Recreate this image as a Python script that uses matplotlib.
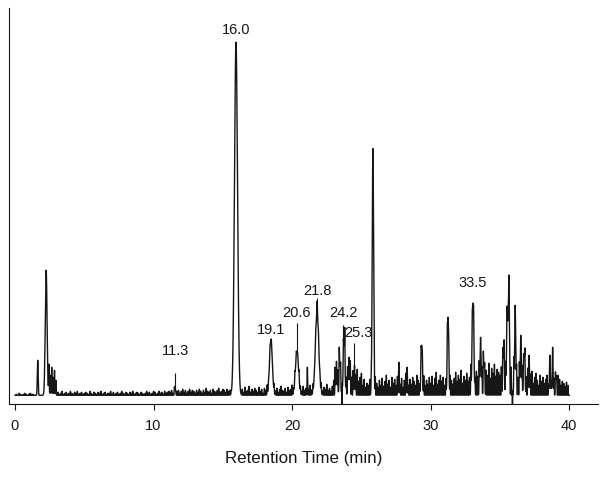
import numpy as np
import matplotlib.pyplot as plt

plt.rcParams['font.family'] = ['Liberation Sans', 'DejaVu Sans']

# main peaks: retention time (min), height, width (min)
peak_t = [1.64, 2.25, 2.45, 2.55, 2.65, 2.75, 2.85, 2.95,
          11.55, 15.95, 18.47, 20.35, 21.1, 21.8,
          23.2, 23.45, 23.75, 23.6, 24.1, 24.5, 25.83,
          27.7, 28.3, 29.35, 31.25, 33.05, 33.6, 33.85,
          35.25, 35.55, 35.65, 35.9, 36.1, 36.5, 36.75, 37.1,
          38.6, 38.8, 39.05]
peak_h = [35, 125, 30, 20, 28, 18, 25, 15,
          9, 353, 55, 43, 25, 82,
          22, 30, 50, -50, 26, 18, 245,
          20, 16, 50, 78, 92, 42, 30,
          38, 75, 92, -90, 64, 40, 40, 26,
          26, 26, 20]
peak_w = [0.03, 0.065, 0.02, 0.02, 0.02, 0.02, 0.02, 0.02,
          0.03, 0.11, 0.1, 0.11, 0.02, 0.12,
          0.05, 0.05, 0.06, 0.008, 0.06, 0.04, 0.05,
          0.03, 0.03, 0.05, 0.05, 0.06, 0.05, 0.04,
          0.05, 0.07, 0.025, 0.008, 0.05, 0.05, 0.05, 0.04,
          0.04, 0.04, 0.03]

# baseline noise spikes, one every 0.1 min, per region
noise_a = [1, 0, 2, 1, 0, 1, 2, 1, 0, 1, 2, 1, 1, 0]  # 0.1 - 1.4
noise_b = [3, 1, 2, 4, 1, 2, 3, 1, 2, 4, 2, 1, 3, 2, 4, 1, 2, 3, 1, 2,
           3, 2, 1, 4, 2, 1, 3, 2, 1, 3, 2, 4, 1, 2, 3, 1, 2, 2, 4, 1,
           3, 1, 2, 3, 1, 2, 4, 2, 1, 3, 2, 1, 3, 2, 4, 1, 2, 3, 2, 1,
           3, 2, 1, 2, 4, 2, 3, 1, 2, 4, 3, 1, 2, 4, 2, 3, 1, 4, 2, 3]  # 3.1 - 11.0
noise_c = [4, 3, 5, 2, 6, 3, 4, 5, 2, 4, 6, 3, 5, 2, 4, 6, 3, 5, 4, 2,
           5, 3, 6, 4, 2, 5, 3, 7, 4, 3, 5, 2, 6, 4, 3, 5, 7, 3, 4, 6,
           5, 3, 6, 4, 5, 3]  # 11.1 - 15.6
noise_d = [6, 3, 8, 4, 5, 9, 3, 6, 4, 7, 5, 3, 8, 4, 6, 2, 7, 5, 9, 4,
           6, 3, 5, 8, 4, 7, 3, 6, 9, 5, 4, 7, 3, 8, 5, 6, 10, 4, 7, 5,
           3, 8, 6, 4, 9, 5, 7, 3, 6, 10, 5, 8, 4, 7, 12, 6, 5, 9, 4, 8,
           6, 11, 5, 7, 4, 9]  # 16.4 - 22.9
noise_e = [15, 25, 12, 22, 30, 14, 26, 20, 32, 16, 22, 12, 28, 18, 24, 12, 20, 26, 14, 18,
           22, 10, 16, 8, 12,  # 23.0 - 25.4
           10, 16, 8, 14, 11, 18, 12, 8, 15, 10, 17, 9, 14, 20, 11, 15, 8, 18, 12, 16,
           10, 19, 13, 11, 17, 8, 15, 22, 12, 10, 16, 11, 18, 14, 10, 20, 15, 11, 17, 12,
           19, 10, 15, 11, 18,  # 25.5 - 29.9
           12, 19, 10, 17, 23, 11, 15, 20, 14, 18, 10, 16, 21, 12, 19, 15, 11, 17, 23, 14,
           20, 16, 25, 12, 19, 15, 22, 14, 18, 27, 17, 21, 14, 24, 19, 29, 16, 23, 30, 18,
           25, 20, 32, 17, 27, 22, 31, 19, 26, 23,  # 30.0 - 34.9
           20, 28, 24, 32, 26, 30, 22, 34, 28, 24, 30, 26, 22, 18, 28, 20, 24, 16, 22, 18,
           26, 14, 20, 24, 12, 18, 22, 15, 10, 20, 14, 18, 12, 16, 20, 10, 14, 12, 22, 16,
           18, 12, 20, 16, 10, 14, 12, 9, 13, 10]  # 35.0 - 39.9
noise_start = [0.1, 3.1, 11.1, 16.4, 23.0]

labels = ['11.3', '16.0', '19.1', '20.6', '21.8', '24.2', '25.3', '33.5']
label_x = [11.55, 15.95, 18.47, 20.35, 21.8, 23.67, 24.8, 33.05]
label_y = [44, 365, 65, 82, 104, 82, 62, 112]
# leader lines: x, y from, y to
lead_x = [11.55, 20.35, 21.8, 23.67, 24.46]
lead_y0 = [6, 43, 82, 55, 27]
lead_y1 = [22, 72, 97, 70, 52]

t = np.linspace(0, 40, 8001)
signal = np.zeros_like(t)
for c, h, w in zip(peak_t, peak_h, peak_w):
    signal += h * np.exp(-0.5 * ((t - c) / w) ** 2)
for start, vals in zip(noise_start, [noise_a, noise_b, noise_c, noise_d, noise_e]):
    for i, h in enumerate(vals):
        signal += h * np.exp(-0.5 * ((t - (start + 0.1 * i)) / 0.014) ** 2)

fig, ax = plt.subplots(figsize=(6.02, 4.79), dpi=100)
fig.subplots_adjust(left=0.015, right=0.993, bottom=0.156, top=0.983)

ax.plot(t, signal, color='#161616', lw=1.0)
ax.vlines(lead_x, lead_y0, lead_y1, color='#161616', lw=0.8)
for s, x, y in zip(labels, label_x, label_y):
    ax.text(x, y, s, ha='center', va='center', fontsize=10.5, color='#161616')

ax.set_xlim(-0.43, 42.06)
ax.set_ylim(-9, 387)
ax.set_xticks([0, 10, 20, 30, 40])
ax.set_yticks([])
ax.tick_params(axis='x', direction='out', length=4.5, width=0.8, pad=6, labelsize=10.5, colors='#161616')
for side in ['top', 'right']:
    ax.spines[side].set_visible(False)
for side in ['left', 'bottom']:
    ax.spines[side].set_linewidth(0.8)
    ax.spines[side].set_color('#161616')
ax.set_xlabel('Retention Time (min)', fontsize=12.2, labelpad=13, color='#161616')

plt.savefig('out.png', dpi=100)
